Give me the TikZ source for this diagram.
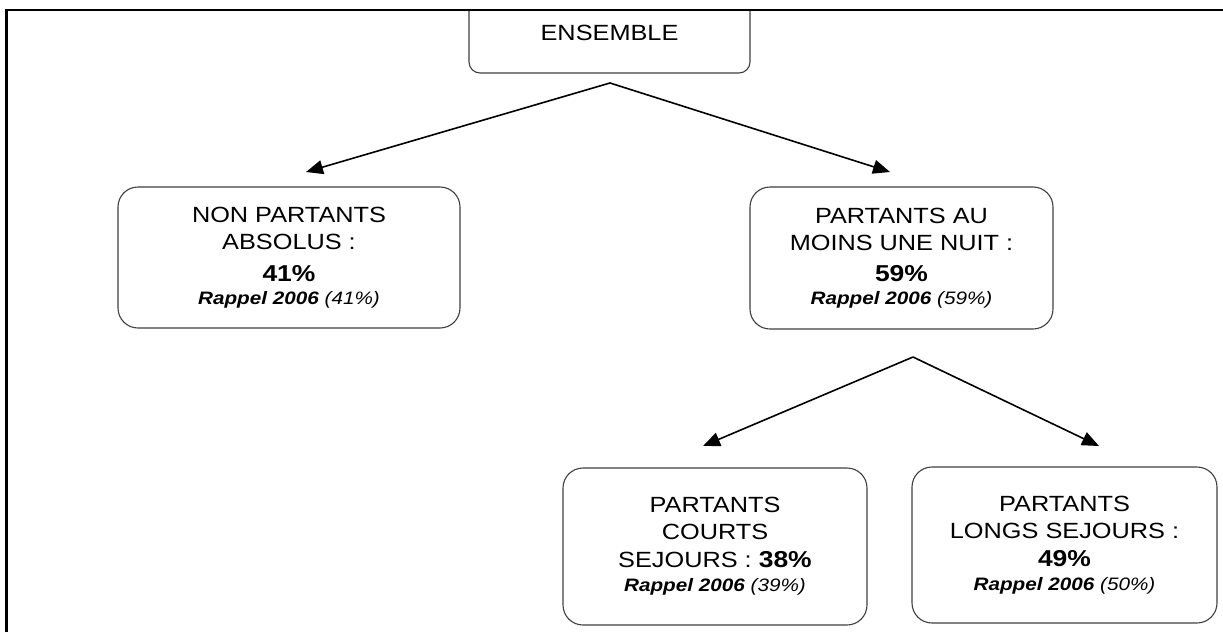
\documentclass[tikz,border=0pt]{standalone}
\usepackage{fontspec}
\setmainfont[FakeStretch=1.15]{Liberation Sans}
\usetikzlibrary{arrows.meta}
\newcommand{\pctxt}[1]{{\fontsize{23}{26}\selectfont\bfseries #1}}
\newcommand{\rappeltxt}[1]{{\fontsize{18}{22}\selectfont\itshape\textbf{Rappel 2006} (#1\%)}}
\tikzset{
  box/.style={draw=black!75, line width=1.1pt, rounded corners=20pt, align=center,
    font=\fontsize{22}{27}\selectfont, inner sep=0pt},
  conn/.style={line width=1.6pt, -{Triangle[length=17pt,width=14pt]}},
  frameline/.style={line width=2.6pt}
}
\begin{document}
\begin{tikzpicture}[x=1pt,y=-1pt]
\useasboundingbox[fill=white] (0,0) rectangle (1223,632);
\begin{scope}
  \clip (0,10) rectangle (1223,632);
  \node[box, rounded corners=11pt, minimum width=281pt, minimum height=80pt] (ens) at (609.5,33) {ENSEMBLE};
\end{scope}
\node[box, minimum width=342pt, minimum height=141pt] (non) at (289,257.5)
  {NON PARTANTS\\ABSOLUS :\\[5pt]\pctxt{41\%}\\[-4pt]\rappeltxt{41}};
\node[box, minimum width=303pt, minimum height=142pt] (pau) at (901.5,258)
  {PARTANTS AU\\MOINS UNE NUIT :\\[4pt]\pctxt{59\%}\\[-4pt]\rappeltxt{59}};
\node[box, minimum width=304pt, minimum height=157pt] (cou) at (715,546.5)
  {PARTANTS\\COURTS\\[1pt]SEJOURS : \pctxt{38\%}\\[-3pt]\rappeltxt{39}};
\node[box, minimum width=305pt, minimum height=156pt] (lon) at (1064.5,545)
  {PARTANTS\\LONGS SEJOURS :\\[1pt]\pctxt{49\%}\\[-3pt]\rappeltxt{50}};
\coordinate (a1) at (610,83);
\coordinate (t1) at (306,172);
\coordinate (t2) at (890,172);
\coordinate (a2) at (913,357);
\coordinate (t3) at (703,446);
\coordinate (t4) at (1099,446);
\draw[conn] (a1) -- (t1);
\draw[conn] (a1) -- (t2);
\draw[conn] (a2) -- (t3);
\draw[conn] (a2) -- (t4);
\draw[frameline] (6.5,632) -- (6.5,10) -- (1223,10);
\end{tikzpicture}
\end{document}
